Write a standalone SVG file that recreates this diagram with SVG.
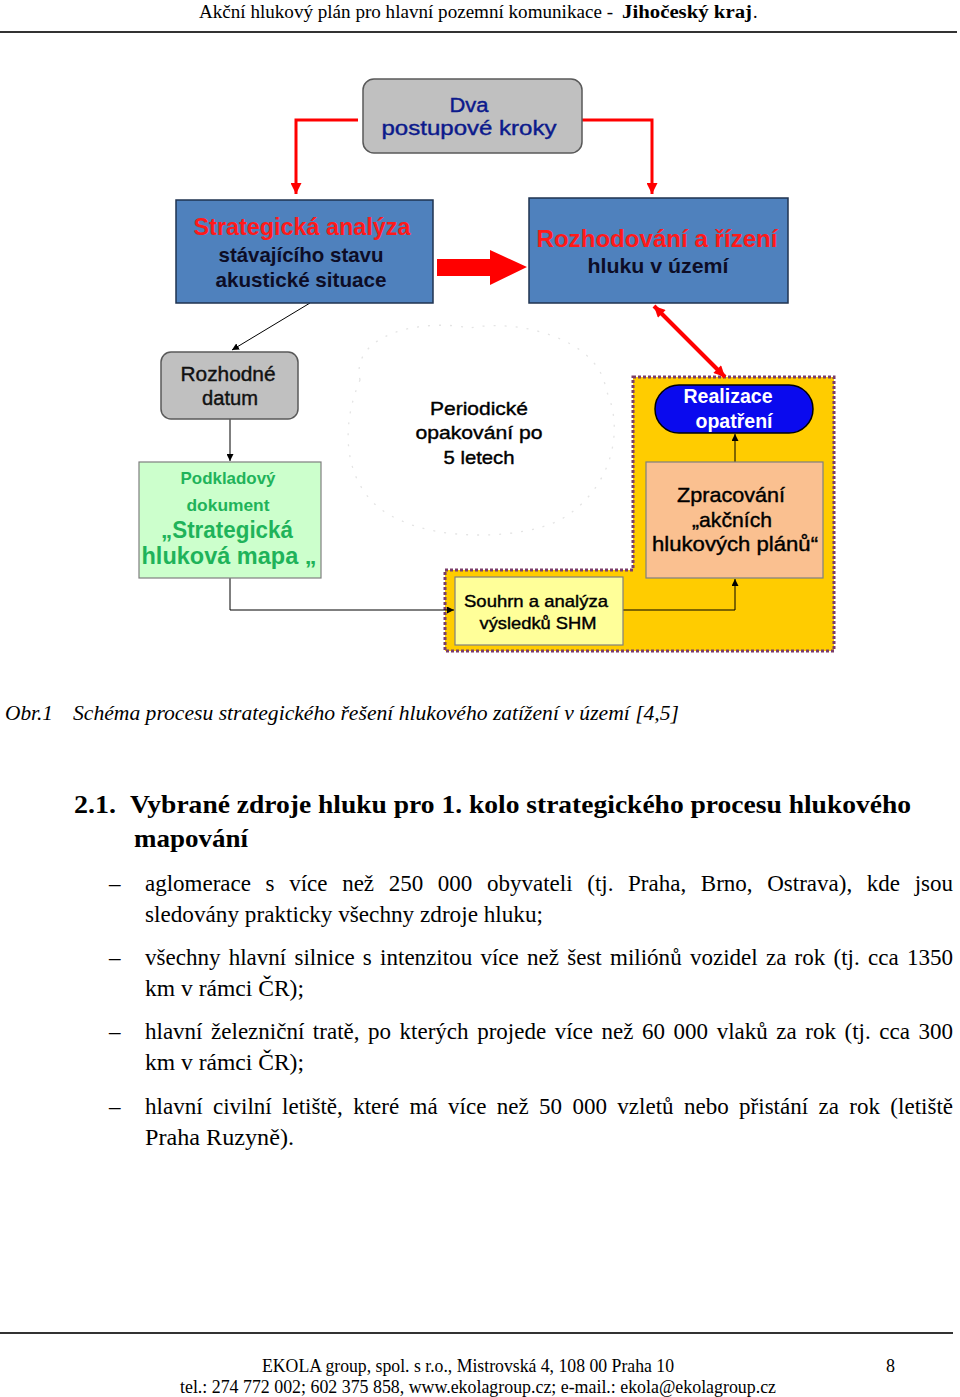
<svg xmlns="http://www.w3.org/2000/svg" width="960" height="1397" viewBox="0 0 960 1397">
<style>
.serif{font-family:"Liberation Serif","Times New Roman",serif;fill:#000}
.sans{font-family:"Liberation Sans",Arial,sans-serif}
.body{font-size:23px}
.ctr{text-anchor:middle}
.thk{stroke-width:0.4}
.thin{fill:none;stroke:#000;stroke-width:1}
.red{fill:none;stroke:#ff0000;stroke-width:3}
</style>
<defs>
<marker id="ah" viewBox="0 0 10 10" refX="10" refY="5" markerWidth="7" markerHeight="7" markerUnits="userSpaceOnUse" orient="auto"><path d="M0,0 L10,5 L0,10 z" fill="#000"/></marker>
<marker id="rh" viewBox="0 0 10 10" refX="10" refY="5" markerWidth="13" markerHeight="11" markerUnits="userSpaceOnUse" orient="auto"><path d="M0,0 L10,5 L0,10 z" fill="#ff0000"/></marker>
<marker id="rhs" viewBox="0 0 10 10" refX="0" refY="5" markerWidth="13" markerHeight="11" markerUnits="userSpaceOnUse" orient="auto"><path d="M10,0 L0,5 L10,10 z" fill="#ff0000"/></marker>
</defs>

<!-- header -->
<g id="header">
<text class="serif" x="199" y="18" font-size="18" textLength="414" lengthAdjust="spacingAndGlyphs">Akční hlukový plán pro hlavní pozemní komunikace -</text>
<text class="serif" x="622" y="18" font-size="18" font-weight="bold" textLength="130" lengthAdjust="spacingAndGlyphs">Jihočeský kraj</text>
<text class="serif" x="753" y="18" font-size="18">.</text>
<line x1="0" y1="32" x2="957" y2="32" stroke="#333" stroke-width="2"/>
</g>

<!-- cloud and yellow region (background) -->
<g id="cloud">
<path d="M360,380 C350,335 420,318 470,328 C520,318 600,340 606,390 C625,430 612,490 560,520 C520,540 440,540 400,520 C350,500 335,440 360,380 Z" fill="none" stroke="#e4e4e4" stroke-width="1.3" stroke-dasharray="2 9"/>
<text class="sans ctr thk" x="479" y="415" font-size="19" fill="#000" stroke="#000" textLength="98" lengthAdjust="spacingAndGlyphs">Periodické</text>
<text class="sans ctr thk" x="479" y="439" font-size="19" fill="#000" stroke="#000" textLength="127" lengthAdjust="spacingAndGlyphs">opakování po</text>
<text class="sans ctr thk" x="479" y="464" font-size="19" fill="#000" stroke="#000" textLength="71" lengthAdjust="spacingAndGlyphs">5 letech</text>
</g>
<g id="region">
<path d="M633,377 L834,377 L834,651 L445,651 L445,570 L633,570 Z" fill="#ffcc00" stroke="#7a3d6a" stroke-width="3" stroke-dasharray="3 2"/>
</g>

<!-- connectors -->
<g id="connectors">
<path class="red" d="M358,120 L296,120 L296,194" marker-end="url(#rh)"/>
<path class="red" d="M582,120 L652,120 L652,194" marker-end="url(#rh)"/>
<polygon points="437,259 490,259 490,250 527,267 490,285 490,276 437,276" fill="#ff0000"/>
<line x1="654" y1="306" x2="725" y2="377" stroke="#ff0000" stroke-width="4" marker-start="url(#rhs)" marker-end="url(#rh)"/>
<line class="thin" x1="310" y1="303" x2="232" y2="350" marker-end="url(#ah)"/>
<line class="thin" x1="230" y1="419" x2="230" y2="461" marker-end="url(#ah)"/>
<path class="thin" d="M230,578 L230,610 L454,610" marker-end="url(#ah)"/>
<path class="thin" d="M623,610 L735,610 L735,579" marker-end="url(#ah)"/>
<line class="thin" x1="735" y1="462" x2="735" y2="434" marker-end="url(#ah)"/>
</g>

<!-- nodes -->
<g id="dva">
<rect x="363" y="79" width="219" height="74" rx="11" fill="#c0c0c0" stroke="#595959" stroke-width="1.5"/>
<text class="sans ctr thk" x="469" y="112" font-size="20" fill="#0c1a8c" stroke="#0c1a8c" textLength="39" lengthAdjust="spacingAndGlyphs">Dva</text>
<text class="sans ctr thk" x="469" y="135" font-size="20" fill="#0c1a8c" stroke="#0c1a8c" textLength="175" lengthAdjust="spacingAndGlyphs">postupové kroky</text>
</g>
<g id="strategicka">
<rect x="176" y="200" width="257" height="103" fill="#4f81bd" stroke="#1f3350" stroke-width="1.5"/>
<text class="sans ctr" x="302" y="235" font-size="23" font-weight="bold" fill="#ff1a1a" textLength="217" lengthAdjust="spacingAndGlyphs">Strategická analýza</text>
<text class="sans ctr" x="301" y="262" font-size="21" font-weight="bold" fill="#0d0d26" textLength="165" lengthAdjust="spacingAndGlyphs">stávajícího stavu</text>
<text class="sans ctr" x="301" y="287" font-size="21" font-weight="bold" fill="#0d0d26" textLength="171" lengthAdjust="spacingAndGlyphs">akustické situace</text>
</g>
<g id="rozhodovani">
<rect x="529" y="198" width="259" height="105" fill="#4f81bd" stroke="#1f3350" stroke-width="1.5"/>
<text class="sans ctr" x="657" y="247" font-size="24" font-weight="bold" fill="#ff1a1a" textLength="241" lengthAdjust="spacingAndGlyphs">Rozhodování a řízení</text>
<text class="sans ctr" x="658" y="273" font-size="21" font-weight="bold" fill="#0d0d26" textLength="141" lengthAdjust="spacingAndGlyphs">hluku v území</text>
</g>
<g id="rozhodne">
<rect x="161" y="352" width="137" height="67" rx="10" fill="#c0c0c0" stroke="#595959" stroke-width="1.5"/>
<text class="sans ctr thk" x="228" y="381" font-size="20" fill="#111" stroke="#111" textLength="95" lengthAdjust="spacingAndGlyphs">Rozhodné</text>
<text class="sans ctr thk" x="230" y="405" font-size="20" fill="#111" stroke="#111" textLength="56" lengthAdjust="spacingAndGlyphs">datum</text>
</g>
<g id="podkladovy">
<rect x="139" y="462" width="182" height="116" fill="#ccffcc" stroke="#7f7f7f" stroke-width="1.2"/>
<text class="sans ctr" x="228" y="484" font-size="17" font-weight="bold" fill="#1fb35a" textLength="95" lengthAdjust="spacingAndGlyphs">Podkladový</text>
<text class="sans ctr" x="228" y="511" font-size="17" font-weight="bold" fill="#1fb35a" textLength="83" lengthAdjust="spacingAndGlyphs">dokument</text>
<text class="sans ctr" x="227" y="538" font-size="23" font-weight="bold" fill="#1fb35a" textLength="132" lengthAdjust="spacingAndGlyphs">„Strategická</text>
<text class="sans ctr" x="229" y="564" font-size="23" font-weight="bold" fill="#1fb35a" textLength="175" lengthAdjust="spacingAndGlyphs">hluková mapa „</text>
</g>
<g id="realizace">
<rect x="655" y="385" width="158" height="48" rx="24" fill="#0a0aee" stroke="#000" stroke-width="1.5"/>
<text class="sans ctr" x="728" y="403" font-size="20" font-weight="bold" fill="#fff" textLength="89" lengthAdjust="spacingAndGlyphs">Realizace</text>
<text class="sans ctr" x="734" y="428" font-size="20" font-weight="bold" fill="#fff" textLength="77" lengthAdjust="spacingAndGlyphs">opatření</text>
</g>
<g id="zpracovani">
<rect x="646" y="462" width="177" height="116" fill="#fac090" stroke="#7f7f7f" stroke-width="1.2"/>
<text class="sans ctr thk" x="731" y="502" font-size="21" fill="#000" stroke="#000" textLength="108" lengthAdjust="spacingAndGlyphs">Zpracování</text>
<text class="sans ctr thk" x="732" y="527" font-size="21" fill="#000" stroke="#000" textLength="80" lengthAdjust="spacingAndGlyphs">„akčních</text>
<text class="sans ctr thk" x="735" y="551" font-size="21" fill="#000" stroke="#000" textLength="166" lengthAdjust="spacingAndGlyphs">hlukových plánů“</text>
</g>
<g id="souhrn">
<rect x="455" y="577" width="168" height="68" fill="#ffff99" stroke="#7f7f7f" stroke-width="1.2"/>
<text class="sans ctr thk" x="536" y="607" font-size="17" fill="#000" stroke="#000" textLength="144" lengthAdjust="spacingAndGlyphs">Souhrn a analýza</text>
<text class="sans ctr thk" x="538" y="629" font-size="17" fill="#000" stroke="#000" textLength="117" lengthAdjust="spacingAndGlyphs">výsledků SHM</text>
</g>

<!-- caption -->
<g id="caption">
<text class="serif" x="5" y="720" font-size="20" font-style="italic" textLength="48" lengthAdjust="spacingAndGlyphs">Obr.1</text>
<text class="serif" x="73" y="720" font-size="20" font-style="italic" textLength="606" lengthAdjust="spacingAndGlyphs">Schéma procesu strategického řešení hlukového zatížení v území [4,5]</text>
</g>

<!-- section text -->
<g id="section">
<text class="serif" x="74" y="813" font-size="26" font-weight="bold" textLength="42" lengthAdjust="spacingAndGlyphs">2.1.</text>
<text class="serif" x="130" y="813" font-size="26" font-weight="bold" textLength="781" lengthAdjust="spacingAndGlyphs">Vybrané zdroje hluku pro 1. kolo strategického procesu hlukového</text>
<text class="serif" x="134" y="847" font-size="26" font-weight="bold" textLength="114" lengthAdjust="spacingAndGlyphs">mapování</text>

<text class="serif body" x="109" y="891">–</text>
<text class="serif body" x="145" y="891" word-spacing="8.9" textLength="808" lengthAdjust="spacingAndGlyphs">aglomerace s více než 250 000 obyvateli (tj. Praha, Brno, Ostrava), kde jsou</text>
<text class="serif body" x="145" y="922" textLength="398" lengthAdjust="spacingAndGlyphs">sledovány prakticky všechny zdroje hluku;</text>

<text class="serif body" x="109" y="965">–</text>
<text class="serif body" x="145" y="965" word-spacing="2.5" textLength="808" lengthAdjust="spacingAndGlyphs">všechny hlavní silnice s intenzitou více než šest miliónů vozidel za rok (tj. cca 1350</text>
<text class="serif body" x="145" y="996" textLength="159" lengthAdjust="spacingAndGlyphs">km v rámci ČR);</text>

<text class="serif body" x="109" y="1039">–</text>
<text class="serif body" x="145" y="1039" word-spacing="2.8" textLength="808" lengthAdjust="spacingAndGlyphs">hlavní železniční tratě, po kterých projede více než 60 000 vlaků za rok (tj. cca 300</text>
<text class="serif body" x="145" y="1070" textLength="159" lengthAdjust="spacingAndGlyphs">km v rámci ČR);</text>

<text class="serif body" x="109" y="1114">–</text>
<text class="serif body" x="145" y="1114" word-spacing="4.6" textLength="808" lengthAdjust="spacingAndGlyphs">hlavní civilní letiště, které má více než 50 000 vzletů nebo přistání za rok (letiště</text>
<text class="serif body" x="145" y="1145" textLength="149" lengthAdjust="spacingAndGlyphs">Praha Ruzyně).</text>
</g>

<!-- footer -->
<g id="footer">
<line x1="0" y1="1333" x2="953" y2="1333" stroke="#333" stroke-width="2"/>
<text class="serif" x="262" y="1372" font-size="18" textLength="412" lengthAdjust="spacingAndGlyphs">EKOLA group, spol. s r.o., Mistrovská 4, 108 00 Praha 10</text>
<text class="serif" x="886" y="1372" font-size="18">8</text>
<text class="serif" x="180" y="1393" font-size="18" textLength="596" lengthAdjust="spacingAndGlyphs">tel.: 274 772 002; 602 375 858, www.ekolagroup.cz;  e-mail.: ekola@ekolagroup.cz</text>
</g>
</svg>
